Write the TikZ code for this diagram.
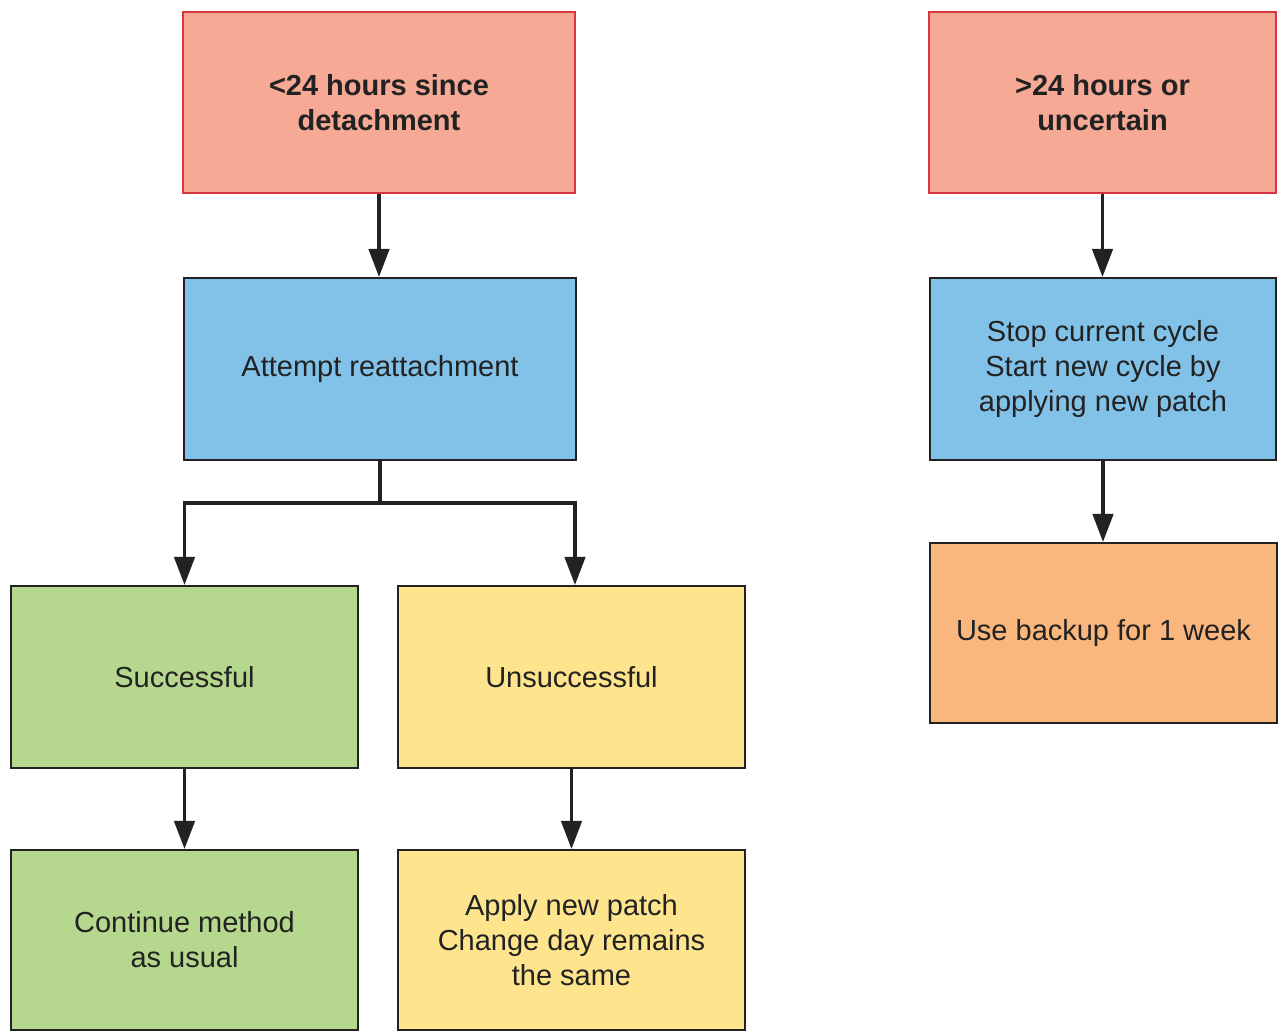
\documentclass[tikz,border=0pt]{standalone}
\usepackage{fontspec}
\setmainfont{Liberation Sans}
\usetikzlibrary{arrows.meta}
\definecolor{redfill}{HTML}{F6A994}
\definecolor{redline}{HTML}{D93540}
\definecolor{bluefill}{HTML}{82C1E8}
\definecolor{greenfill}{HTML}{B5D88E}
\definecolor{yellowfill}{HTML}{FDE48D}
\definecolor{orangefill}{HTML}{F9B77E}
\definecolor{edge}{HTML}{222222}
\definecolor{txt}{HTML}{222222}
\tikzset{
  box/.style={draw=edge, line width=1.1pt, rectangle, align=center, text=txt,
    font=\fontsize{16.5}{20}\selectfont, inner sep=0pt},
  redbox/.style={box, draw=redline, fill=redfill, font=\fontsize{16.5}{20}\selectfont\bfseries},
  conn/.style={draw=edge, line width=2.2pt},
  arr/.style={conn, -{Triangle[length=16pt, width=11.5pt]}},
}
\begin{document}
\begin{tikzpicture}[x=0.02cm, y=-0.02cm]
\useasboundingbox (0,0) rectangle (1279,1032);
\node[redbox, minimum width=7.84cm, minimum height=3.62cm] (lt) at (379,102.5) {<24 hours since\\detachment};
\node[redbox, minimum width=6.94cm, minimum height=3.62cm] (rt) at (1102.5,102.5) {>24 hours or\\uncertain};
\node[box, fill=bluefill, minimum width=7.84cm, minimum height=3.64cm] (att) at (380,369) {Attempt reattachment};
\node[box, fill=bluefill, minimum width=6.92cm, minimum height=3.64cm] (stop) at (1103,369) {Stop current cycle\\Start new cycle by\\applying new patch};
\node[box, fill=greenfill, minimum width=6.94cm, minimum height=3.64cm] (succ) at (184.5,677) {Successful};
\node[box, fill=yellowfill, minimum width=6.94cm, minimum height=3.64cm] (unsucc) at (571.5,677) {Unsuccessful};
\node[box, fill=orangefill, minimum width=6.94cm, minimum height=3.60cm] (backup) at (1103.5,633) {Use backup for 1 week};
\node[box, fill=greenfill, minimum width=6.94cm, minimum height=3.60cm] (cont) at (184.5,940) {Continue method\\as usual};
\node[box, fill=yellowfill, minimum width=6.94cm, minimum height=3.60cm] (apply) at (571.5,940) {Apply new patch\\Change day remains\\the same};
\coordinate (split) at (380,503);
\draw[arr] (lt.south) -- (lt.south |- att.north);
\draw[arr] (rt.south) -- (rt.south |- stop.north);
\draw[arr] (stop.south) -- (stop.south |- backup.north);
\draw[conn] (att.south) -- (split);
\draw[arr] (split) -| (succ.north);
\draw[arr] (split) -| ([xshift=0.07cm]unsucc.north);
\draw[arr] (succ.south) -- (cont.north);
\draw[arr] (unsucc.south) -- (apply.north);
\end{tikzpicture}
\end{document}
